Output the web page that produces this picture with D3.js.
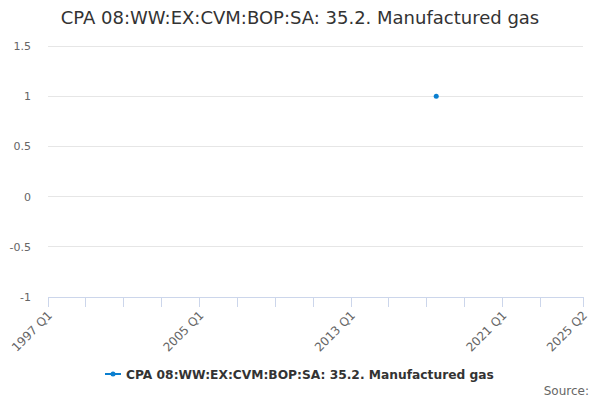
<!DOCTYPE html>
<html><head><meta charset="utf-8">
<script src="https://cdn.jsdelivr.net/npm/d3@7"></script>
<style>body{margin:0;background:#fff}svg{font-family:"DejaVu Sans",sans-serif}</style>
</head><body>
<svg id="c" width="600" height="400"></svg>
<script>
const title = "CPA 08:WW:EX:CVM:BOP:SA: 35.2. Manufactured gas";
const seriesName = "CPA 08:WW:EX:CVM:BOP:SA: 35.2. Manufactured gas";
const startYear = 1997, endYear = 2025, endQuarter = 2;
const categories = [];
for (let y = startYear; y <= endYear; y++) for (let q = 1; q <= 4; q++) {
  if (y === endYear && q > endQuarter) break;
  categories.push(y + " Q" + q);
}
const pointCategories = ["2017 Q3"];
const pointValues = [1];
const yTicks = [-1, -0.5, 0, 0.5, 1, 1.5];
const xLabels = ["1997 Q1", "2005 Q1", "2013 Q1", "2021 Q1", "2025 Q2"];

const svg = d3.select("#c");
const L = 48, R = 583, T = 46, B = 297;
const x = d3.scalePoint().domain(categories).range([L, R]);
const y = d3.scaleLinear().domain([-1, 1.5]).range([B, T]);

svg.append("text").attr("x", 300).attr("y", 24).attr("text-anchor", "middle")
  .attr("font-size", 18).attr("fill", "#333").text(title);

// gridlines
svg.append("g").selectAll("line").data(yTicks.filter(d => d !== -1)).join("line")
  .attr("x1", L).attr("x2", R).attr("y1", d => y(d)).attr("y2", d => y(d))
  .attr("stroke", "#e6e6e6").attr("stroke-width", 1).attr("shape-rendering", "crispEdges");

// y labels
svg.append("g").selectAll("text").data(yTicks).join("text")
  .attr("x", 31).attr("y", d => y(d) + 4).attr("text-anchor", "end")
  .attr("font-size", 11).attr("fill", "#666").text(d => d);

// x axis
const n = categories.length;
const tickCats = categories.filter((c, i) => i % 8 === 0 && i < n - 4);
tickCats.push(categories[n - 1]);
svg.append("line").attr("x1", L).attr("x2", R + 1).attr("y1", B).attr("y2", B)
  .attr("stroke", "#ccd6eb").attr("shape-rendering", "crispEdges");
svg.append("g").selectAll("line").data(tickCats).join("line")
  .attr("x1", d => x(d)).attr("x2", d => x(d)).attr("y1", B).attr("y2", B + 10)
  .attr("stroke", "#ccd6eb").attr("shape-rendering", "crispEdges");
svg.append("g").selectAll("text").data(xLabels).join("text")
  .attr("transform", d => `translate(${x(d) + 5},${B + 19}) rotate(-45)`)
  .attr("text-anchor", "end").attr("font-size", 12).attr("fill", "#666").text(d => d);

// points
svg.append("g").selectAll("circle").data(pointCategories.map((c, i) => ({c, v: pointValues[i]}))).join("circle")
  .attr("cx", d => x(d.c)).attr("cy", d => y(d.v)).attr("r", 2.5).attr("fill", "#0a7fd0");

// legend
const lg = svg.append("g");
lg.append("line").attr("x1", 105).attr("x2", 121).attr("y1", 374).attr("y2", 374)
  .attr("stroke", "#0a7fd0").attr("stroke-width", 2);
lg.append("circle").attr("cx", 113).attr("cy", 374).attr("r", 2.5).attr("fill", "#0a7fd0");
lg.append("text").attr("x", 126).attr("y", 378.5).attr("font-size", 12.25).attr("font-weight", "bold")
  .attr("fill", "#333").text(seriesName);

svg.append("text").attr("x", 589).attr("y", 395).attr("text-anchor", "end")
  .attr("font-size", 12).attr("fill", "#666").text("Source:");
</script>
</body></html>
